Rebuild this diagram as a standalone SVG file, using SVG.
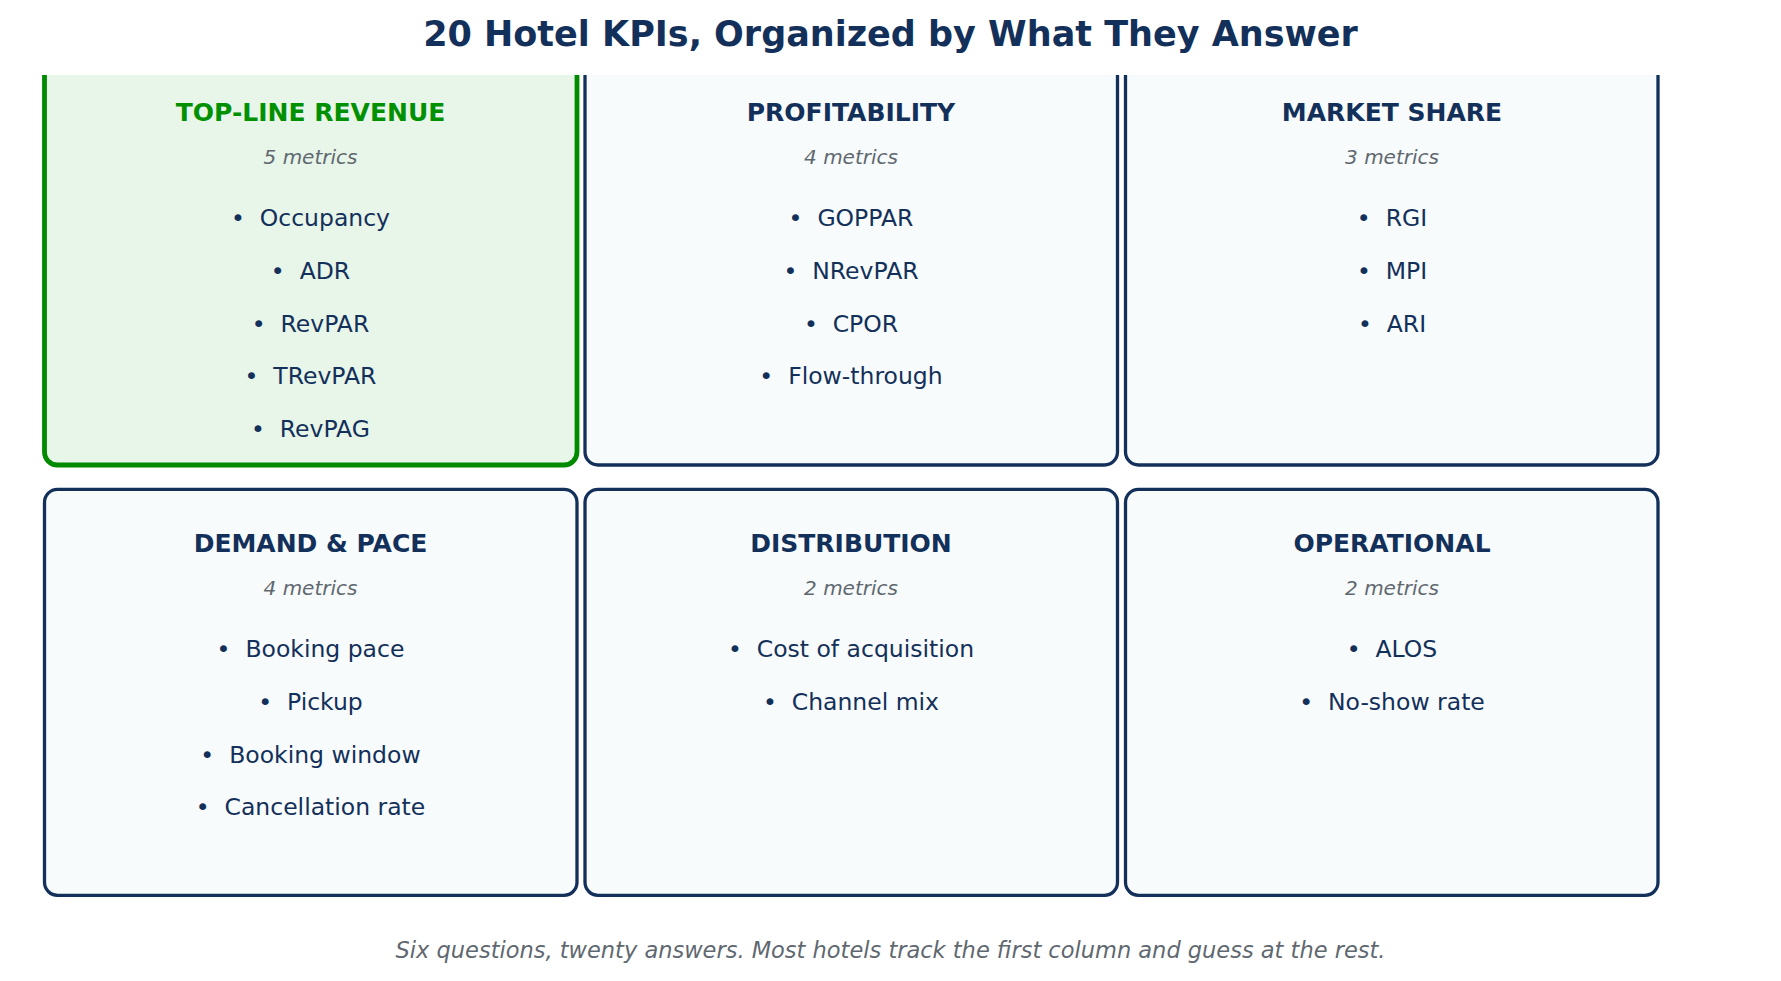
<svg xmlns="http://www.w3.org/2000/svg" width="1781" height="981" viewBox="0 0 1781 981" xml:space="preserve">
<style>
.card{fill:#f7fbfb;stroke:#13305a;stroke-width:3.3}
.hi{fill:#e8f5e9;stroke:#008a00;stroke-width:4.8}
.hd{font-family:"DejaVu Sans",sans-serif;font-weight:bold;font-size:25px;fill:#13305a;text-anchor:middle}
.hdg{fill:#009000}
.ct{font-family:"DejaVu Sans",sans-serif;font-style:italic;font-size:20px;fill:#5f6870;text-anchor:middle}
.it{font-family:"DejaVu Sans",sans-serif;font-size:23.5px;fill:#13305a;text-anchor:middle;white-space:pre}
.title{font-family:"DejaVu Sans",sans-serif;font-weight:bold;font-size:35px;fill:#13305a;text-anchor:middle}
.foot{font-family:"DejaVu Sans",sans-serif;font-style:italic;font-size:22.5px;fill:#5f6870;text-anchor:middle}
</style>
<rect width="1781" height="981" fill="#ffffff"/>
<g id="topline">
<rect class="hi" x="44.5" y="59" width="532.5" height="406" rx="13"/>
<text class="hd hdg" x="310.5" y="121">TOP-LINE REVENUE</text>
<text class="ct" x="310.5" y="164">5 metrics</text>
<text class="it" x="310.5" y="226">•  Occupancy</text>
<text class="it" x="310.5" y="279">•  ADR</text>
<text class="it" x="310.5" y="332">•  RevPAR</text>
<text class="it" x="310.5" y="384">•  TRevPAR</text>
<text class="it" x="310.5" y="437">•  RevPAG</text>
</g>
<g id="profitability">
<rect class="card" x="585" y="59" width="532.5" height="406" rx="13"/>
<text class="hd" x="851" y="121">PROFITABILITY</text>
<text class="ct" x="851" y="164">4 metrics</text>
<text class="it" x="851" y="226">•  GOPPAR</text>
<text class="it" x="851" y="279">•  NRevPAR</text>
<text class="it" x="851" y="332">•  CPOR</text>
<text class="it" x="851" y="384">•  Flow-through</text>
</g>
<g id="market">
<rect class="card" x="1125.5" y="59" width="532.5" height="406" rx="13"/>
<text class="hd" x="1392" y="121">MARKET SHARE</text>
<text class="ct" x="1392" y="164">3 metrics</text>
<text class="it" x="1392" y="226">•  RGI</text>
<text class="it" x="1392" y="279">•  MPI</text>
<text class="it" x="1392" y="332">•  ARI</text>
</g>
<rect x="0" y="0" width="1781" height="75" fill="#ffffff"/>
<g id="title"><text class="title" x="890.5" y="46">20 Hotel KPIs, Organized by What They Answer</text></g>
<g id="demand">
<rect class="card" x="44.5" y="489.3" width="532.5" height="406" rx="13"/>
<text class="hd" x="310.5" y="551.5">DEMAND &amp; PACE</text>
<text class="ct" x="310.5" y="594.5">4 metrics</text>
<text class="it" x="310.5" y="656.5">•  Booking pace</text>
<text class="it" x="310.5" y="709.5">•  Pickup</text>
<text class="it" x="310.5" y="762.5">•  Booking window</text>
<text class="it" x="310.5" y="814.5">•  Cancellation rate</text>
</g>
<g id="distribution">
<rect class="card" x="585" y="489.3" width="532.5" height="406" rx="13"/>
<text class="hd" x="851" y="551.5">DISTRIBUTION</text>
<text class="ct" x="851" y="594.5">2 metrics</text>
<text class="it" x="851" y="656.5">•  Cost of acquisition</text>
<text class="it" x="851" y="709.5">•  Channel mix</text>
</g>
<g id="operational">
<rect class="card" x="1125.5" y="489.3" width="532.5" height="406" rx="13"/>
<text class="hd" x="1392" y="551.5">OPERATIONAL</text>
<text class="ct" x="1392" y="594.5">2 metrics</text>
<text class="it" x="1392" y="656.5">•  ALOS</text>
<text class="it" x="1392" y="709.5">•  No-show rate</text>
</g>
<g id="connectors"/>
<g id="footer"><text class="foot" x="890.5" y="958">Six questions, twenty answers. Most hotels track the first column and guess at the rest.</text></g>
</svg>
